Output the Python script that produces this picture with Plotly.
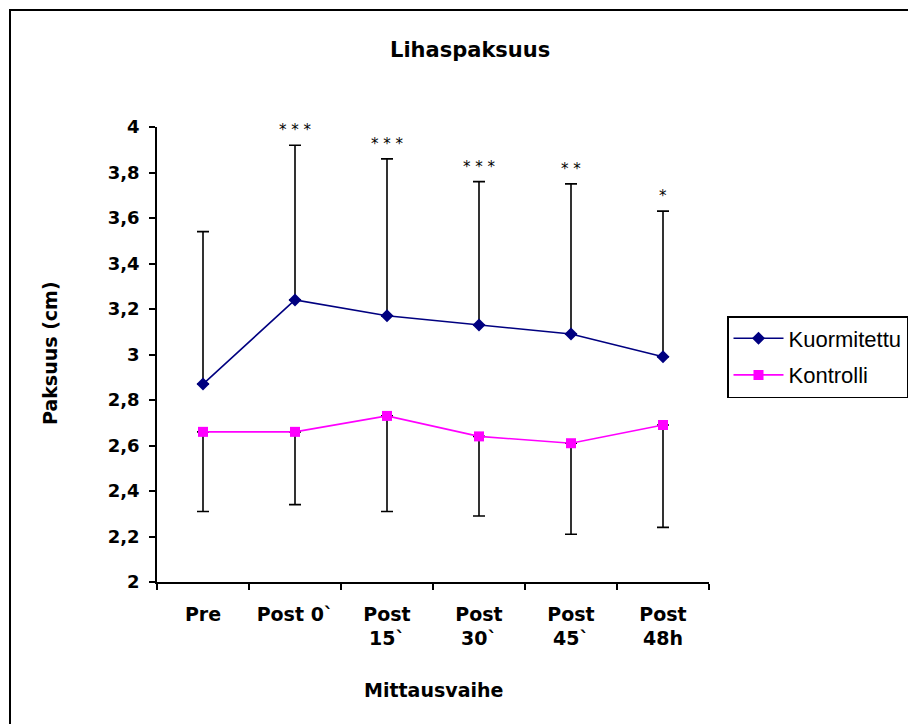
import plotly.graph_objects as go

categories = ["Pre", "Post 0`", "Post 15`", "Post 30`", "Post 45`", "Post 48h"]
category_labels = ["Pre", "Post 0`", "Post<br>15`", "Post<br>30`", "Post<br>45`", "Post<br>48h"]

kuormitettu = [2.87, 3.24, 3.17, 3.13, 3.09, 2.99]
kuormitettu_err_up = [0.67, 0.68, 0.69, 0.63, 0.66, 0.64]

kontrolli = [2.66, 2.66, 2.73, 2.64, 2.61, 2.69]
kontrolli_err_down = [0.35, 0.32, 0.42, 0.35, 0.40, 0.45]

significance = ["", "* * *", "* * *", "* * *", "* *", "*"]

y_tick_values = [2.0, 2.2, 2.4, 2.6, 2.8, 3.0, 3.2, 3.4, 3.6, 3.8, 4.0]
y_tick_labels = ["2", "2,2", "2,4", "2,6", "2,8", "3", "3,2", "3,4", "3,6", "3,8", "4"]

# the page body has an 8px margin; work in screen pixels and subtract it
OFF = 8
W, H = 916 - OFF, 724 - OFF
L, R, T, B = 157 - OFF, 709 - OFF, 127 - OFF, 582 - OFF
pw, ph = R - L, B - T


def px(x):
    return (x - OFF - L) / pw


def py(y):
    return (B - (y - OFF)) / ph


BOLD = dict(family="DejaVu Sans", weight="bold", color="black")

fig = go.Figure()
fig.add_trace(go.Scatter(
    x=categories, y=kuormitettu, name="Kuormitettu", mode="lines+markers",
    line=dict(color="#000080", width=1.6),
    marker=dict(symbol="diamond", size=10, color="#000080"),
    error_y=dict(type="data", symmetric=False, array=kuormitettu_err_up,
                 arrayminus=[0] * len(kuormitettu), color="black", thickness=1.6, width=6),
    legendgroup="a",
))
fig.add_trace(go.Scatter(
    x=categories, y=kontrolli, name="Kontrolli", mode="lines+markers",
    line=dict(color="#FF00FF", width=1.6),
    marker=dict(symbol="square", size=10, color="#FF00FF"),
    error_y=dict(type="data", symmetric=False, array=[0] * len(kontrolli),
                 arrayminus=kontrolli_err_down, color="black", thickness=1.6, width=6),
    legendgroup="b",
))

for c, v, e, s in zip(categories, kuormitettu, kuormitettu_err_up, significance):
    if s:
        fig.add_annotation(x=c, y=v + e, xref="x", yref="y", text=s, showarrow=False,
                           yanchor="bottom", yshift=4,
                           font=dict(family="DejaVu Sans", size=15, color="black"))

fig.add_annotation(x=px(470), y=py(50), xref="paper", yref="paper", text="Lihaspaksuus",
                   showarrow=False, xanchor="center", yanchor="middle",
                   font=dict(size=21, **BOLD))
fig.add_annotation(x=px(433), y=py(690), xref="paper", yref="paper",
                   text="Mittausvaihe", showarrow=False, xanchor="center", yanchor="middle",
                   font=dict(size=19, **BOLD))
fig.add_annotation(x=px(50), y=py(353), xref="paper", yref="paper",
                   text="Paksuus (cm)", showarrow=False, xanchor="center", yanchor="middle",
                   textangle=-90, font=dict(size=19, **BOLD))

# outer chart border
fig.add_shape(type="rect", xref="paper", yref="paper",
              x0=px(10), x1=px(940), y0=py(760), y1=py(10),
              line=dict(color="black", width=2), layer="below")

fig.update_layout(
    width=W, height=H,
    margin=dict(l=L, r=W - R, t=T, b=H - B, autoexpand=False),
    paper_bgcolor="white", plot_bgcolor="white",
    showlegend=True,
    legend=dict(x=px(727), y=py(316), xanchor="left", yanchor="top",
                bgcolor="white", bordercolor="black", borderwidth=1.5,
                font=dict(family="Liberation Sans", size=22, color="black"),
                traceorder="grouped", tracegroupgap=5, itemwidth=50),
    xaxis=dict(type="category", range=[-0.5, 5.5], tickvals=categories, ticktext=category_labels,
               tickson="boundaries", ticks="outside", ticklen=6, tickwidth=1.5, tickcolor="black",
               showline=True, linecolor="black", linewidth=1.5, showgrid=False, zeroline=False,
               tickfont=dict(size=19, **BOLD), ticklabelstandoff=14),
    yaxis=dict(range=[2, 4], tickvals=y_tick_values, ticktext=y_tick_labels,
               ticks="outside", ticklen=6, tickwidth=1.5, tickcolor="black",
               showline=True, linecolor="black", linewidth=1.5, showgrid=False, zeroline=False,
               tickfont=dict(size=18, **BOLD), ticklabelstandoff=6),
)

fig.write_html("out.html")
